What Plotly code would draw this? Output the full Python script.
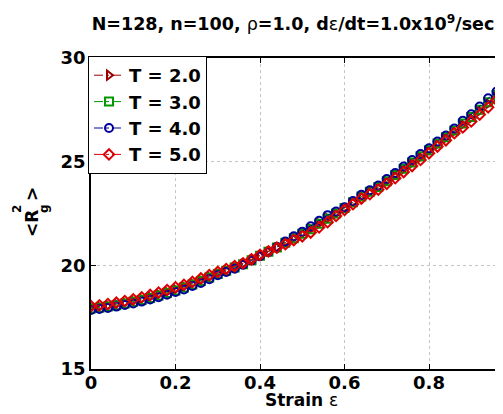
import plotly.graph_objects as go

strain = [round(0.02 * i, 2) for i in range(51)]

r_T2 = [17.97, 18.01, 18.05, 18.13, 18.20, 18.29, 18.38, 18.48, 18.60, 18.72,
        18.84, 18.98, 19.12, 19.28, 19.44, 19.61, 19.76, 19.92, 20.08, 20.27,
        20.46, 20.66, 20.87, 21.10, 21.33, 21.54, 21.76, 22.02, 22.27, 22.50,
        22.75, 23.03, 23.31, 23.54, 23.77, 24.05, 24.34, 24.64, 24.94, 25.22,
        25.53, 25.84, 26.15, 26.47, 26.80, 27.10, 27.45, 27.80, 28.15, 28.50,
        28.85]
r_T3 = [17.92, 17.96, 18.02, 18.08, 18.16, 18.24, 18.33, 18.43, 18.55, 18.67,
        18.79, 18.93, 19.08, 19.24, 19.41, 19.58, 19.74, 19.89, 20.05, 20.25,
        20.46, 20.66, 20.86, 21.09, 21.31, 21.52, 21.74, 22.00, 22.25, 22.50,
        22.76, 23.04, 23.32, 23.55, 23.78, 24.06, 24.36, 24.66, 24.96, 25.26,
        25.55, 25.88, 26.18, 26.50, 26.84, 27.15, 27.50, 27.86, 28.22, 28.56,
        28.92]
r_T4 = [17.85, 17.89, 17.94, 18.01, 18.09, 18.16, 18.25, 18.35, 18.46, 18.58,
        18.71, 18.84, 19.00, 19.15, 19.33, 19.52, 19.68, 19.84, 20.03, 20.23,
        20.44, 20.65, 20.88, 21.15, 21.40, 21.62, 21.88, 22.15, 22.42, 22.60,
        22.80, 23.10, 23.40, 23.62, 23.85, 24.16, 24.45, 24.77, 25.08, 25.37,
        25.65, 25.97, 26.26, 26.60, 26.97, 27.29, 27.66, 28.06, 28.38, 28.73,
        29.08]
r_T5 = [18.03, 18.07, 18.13, 18.20, 18.28, 18.36, 18.46, 18.57, 18.69, 18.81,
        18.94, 19.06, 19.20, 19.37, 19.53, 19.68, 19.82, 19.96, 20.10, 20.29,
        20.50, 20.67, 20.85, 21.02, 21.22, 21.40, 21.58, 21.83, 22.08, 22.38,
        22.67, 22.95, 23.22, 23.43, 23.65, 23.93, 24.20, 24.50, 24.79, 25.08,
        25.40, 25.73, 26.03, 26.37, 26.65, 26.94, 27.27, 27.62, 27.98, 28.33,
        28.68]

series_names = ["T = 2.0", "T = 3.0", "T = 4.0", "T = 5.0"]
series_values = [r_T2, r_T3, r_T4, r_T5]
series_colors = ["#990000", "#009900", "#000099", "#dd0000"]
series_symbols = ["triangle-right-open", "square-open", "circle-open", "diamond-open"]

x_ticks = [0, 0.2, 0.4, 0.6, 0.8]
x_ticklabels = ["0", "0.2", "0.4", "0.6", "0.8"]
y_ticks = [15, 20, 25, 30]

FONT = "DejaVu Sans, Verdana, sans-serif"

fig = go.Figure()
for i, (name, vals, col, sym) in enumerate(zip(series_names, series_values, series_colors, series_symbols)):
    fig.add_trace(go.Scatter(
        x=strain, y=vals, name=name, mode="lines+markers",
        line=dict(color=col, width=1, dash="dashdot"),
        marker=dict(symbol=sym, size=8, color=col, line=dict(color=col, width=2)),
    ))

L, T, B = 83, 50, 53
W, H = 503, 414
pw, ph = W - L, H - T - B

fig.update_layout(
    width=W, height=H,
    margin=dict(l=L, r=0, t=T, b=B, pad=0),
    paper_bgcolor="white", plot_bgcolor="white",
    font=dict(family=FONT, color="black", size=18, weight="bold"),
    title=dict(
        text="N=128, n=100, <span style='font-weight:normal'>ρ</span>=1.0, d<span style='font-weight:normal'>ε</span>/dt=1.0x10<sup>9</sup>/sec",
        x=285 / W, xanchor="center", xref="container",
        y=1 - 16 / H, yanchor="middle", yref="container",
        font=dict(family=FONT, size=17.5, weight="bold", color="black"),
    ),
    showlegend=True,
    legend=dict(
        x=(80 - L) / pw, y=(H - B - 48) / ph, xanchor="left", yanchor="top",
        bgcolor="white", bordercolor="black", borderwidth=1,
        font=dict(family=FONT, size=18, weight="bold", color="black"),
        tracegroupgap=0,
    ),
)

fig.update_xaxes(
    range=[0, pw / 422.5], tickvals=x_ticks, ticktext=x_ticklabels,
    ticks="inside", ticklen=5, tickcolor="black", tickwidth=1,
    showline=True, linecolor="black", linewidth=1.5, mirror="ticks",
    showgrid=True, gridcolor="#c4c4c4", griddash="dot", gridwidth=1,
    zeroline=False, ticklabelstandoff=-3,
    tickfont=dict(family=FONT, size=18, weight="bold", color="black"),
)
fig.update_yaxes(
    range=[15, 30], tickvals=y_ticks,
    ticks="inside", ticklen=5, tickcolor="black", tickwidth=1,
    showline=True, linecolor="black", linewidth=1.5, mirror=False,
    showgrid=True, gridcolor="#c4c4c4", griddash="dot", gridwidth=1,
    zeroline=False,
    tickfont=dict(family=FONT, size=18, weight="bold", color="black"),
)

# "1" tick label, partly beyond the visible right edge (as in reference)
fig.add_annotation(x=(505 - L) / pw, xref="paper", y=0, yref="paper", text="1", showarrow=False,
                   xanchor="center", yanchor="middle", yshift=-14,
                   font=dict(family=FONT, size=18, weight="bold", color="black"))

# x axis title
fig.add_annotation(x=(293 - L) / pw, xref="paper", y=0, yref="paper",
                   text="Strain <span style='font-weight:normal'>ε</span>", showarrow=False,
                   xanchor="center", yanchor="middle", yshift=-31,
                   font=dict(family=FONT, size=17, weight="bold", color="black"))

# y axis title <R^2_g> built from pieces (stacked sup/sub)
def ylab(text, px, py, size):
    fig.add_annotation(x=0, y=0, xref="paper", yref="paper", text=text, showarrow=False,
                       textangle=-90, xanchor="center", yanchor="middle",
                       xshift=px - L, yshift=(H - B) - py,
                       font=dict(family=FONT, size=size, weight="bold", color="black"))

ylab("&lt;R", 24, 216, 17)
ylab("2", 9, 201, 12)
ylab("g", 36, 201, 12)
ylab("&gt;", 24, 186, 17)

fig.write_html("out.html")
